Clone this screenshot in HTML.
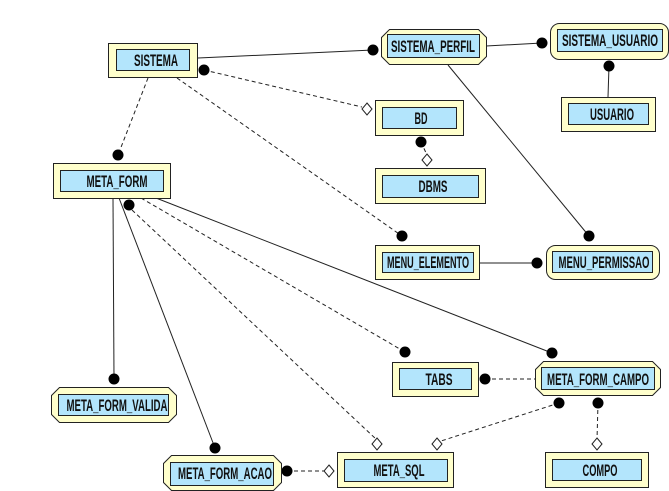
<!DOCTYPE html>
<html><head><meta charset="utf-8"><style>
html,body{margin:0;padding:0;background:#fff;width:669px;height:491px;overflow:hidden}
svg text{font-family:"Liberation Sans Narrow","Liberation Sans",sans-serif;font-weight:bold;fill:#111}
</style></head><body>
<svg width="669" height="491" viewBox="0 0 669 491" xmlns="http://www.w3.org/2000/svg">
<g stroke="#222" stroke-width="1" fill="none">
<line x1="198" y1="58" x2="373" y2="50"/>
<line x1="486" y1="46" x2="542" y2="43"/>
<line x1="609" y1="66" x2="608" y2="97"/>
<line x1="448" y1="65" x2="589" y2="236"/>
<line x1="479" y1="263" x2="537" y2="263"/>
<line x1="113" y1="198" x2="114" y2="379"/>
<line x1="119" y1="198" x2="215" y2="448"/>
<line x1="156" y1="198" x2="552" y2="353"/>
</g>
<g stroke="#222" stroke-width="1" fill="none" stroke-dasharray="4,3">
<line x1="204" y1="70" x2="362" y2="107"/>
<line x1="421" y1="142" x2="427" y2="155"/>
<line x1="148" y1="78" x2="118" y2="155"/>
<line x1="177" y1="78" x2="402" y2="236"/>
<line x1="132" y1="210" x2="377" y2="440"/>
<line x1="141" y1="198" x2="405" y2="352"/>
<line x1="485" y1="379" x2="535" y2="379"/>
<line x1="559" y1="403" x2="441" y2="441"/>
<line x1="598" y1="403" x2="597" y2="440"/>
<line x1="287" y1="471" x2="324" y2="471"/>
</g>
<g fill="#000">
<circle cx="373" cy="50" r="5.5"/><circle cx="542" cy="43" r="5.5"/><circle cx="609" cy="66" r="5.5"/>
<circle cx="204" cy="70" r="5.5"/><circle cx="421" cy="142" r="5.5"/><circle cx="118" cy="155" r="5.5"/>
<circle cx="402" cy="236" r="5.5"/><circle cx="589" cy="236" r="5.5"/><circle cx="537" cy="263" r="5.5"/>
<circle cx="129" cy="205" r="5.5"/><circle cx="405" cy="352" r="5.5"/><circle cx="552" cy="353" r="5.5"/>
<circle cx="485" cy="379" r="5.5"/><circle cx="559" cy="403" r="5.5"/><circle cx="598" cy="403" r="5.5"/>
<circle cx="114" cy="379" r="5.5"/><circle cx="215" cy="448" r="5.5"/><circle cx="287" cy="471" r="5.5"/>
</g>
<g fill="#fff" stroke="#222">
<path d="M367 103 L372 109 L367 115 L362 109Z"/>
<path d="M427 154 L432 160 L427 166 L422 160Z"/>
<path d="M377 438 L382 444 L377 450 L372 444Z"/>
<path d="M437 438 L442 444 L437 450 L432 444Z"/>
<path d="M597 438 L602 444 L597 450 L592 444Z"/>
<path d="M329 465 L334 471 L329 477 L324 471Z"/>
</g>
<g stroke="#222" stroke-width="1">
<rect x="108.5" y="43.5" width="89" height="34" fill="#ffffcc"/><rect x="116.5" y="49.5" width="73" height="21" fill="#b3e5fc"/>
<path d="M389.5 29.5 H478.5 L486.5 37.5 V56.5 L478.5 64.5 H389.5 L381.5 56.5 V37.5Z" fill="#ffffcc"/><rect x="387.5" y="34.5" width="92" height="23" fill="#b3e5fc"/>
<rect x="550.5" y="23.5" width="118" height="36" rx="9" fill="#ffffcc"/><rect x="557.5" y="29.5" width="105" height="22" fill="#b3e5fc"/>
<rect x="561.5" y="97.5" width="94" height="34" fill="#ffffcc"/><rect x="568.5" y="103.5" width="80" height="21" fill="#b3e5fc"/>
<rect x="375.5" y="100.5" width="88" height="35" fill="#ffffcc"/><rect x="382.5" y="107.5" width="74" height="21" fill="#b3e5fc"/>
<rect x="375.5" y="168.5" width="110" height="35" fill="#ffffcc"/><rect x="382.5" y="175.5" width="96" height="22" fill="#b3e5fc"/>
<rect x="53.5" y="163.5" width="117" height="35" fill="#ffffcc"/><rect x="60.5" y="170.5" width="103" height="21" fill="#b3e5fc"/>
<rect x="375.5" y="245.5" width="104" height="34" fill="#ffffcc"/><rect x="382.5" y="252.5" width="91" height="20" fill="#b3e5fc"/>
<rect x="546.5" y="245.5" width="113" height="34" rx="9" fill="#ffffcc"/><rect x="552.5" y="251.5" width="100" height="21" fill="#b3e5fc"/>
<rect x="392.5" y="362.5" width="86" height="34" fill="#ffffcc"/><rect x="399.5" y="368.5" width="72" height="21" fill="#b3e5fc"/>
<path d="M543.5 361.5 H652.5 L660.5 369.5 V387.5 L652.5 395.5 H543.5 L535.5 387.5 V369.5Z" fill="#ffffcc"/><rect x="541.5" y="367.5" width="113" height="22" fill="#b3e5fc"/>
<path d="M59.5 387.5 H168.5 L176.5 395.5 V414.5 L168.5 422.5 H59.5 L51.5 414.5 V395.5Z" fill="#ffffcc"/><rect x="58.5" y="394.5" width="110" height="21" fill="#b3e5fc"/>
<path d="M171.5 455.5 H273.5 L281.5 463.5 V482.5 L273.5 490.5 H171.5 L163.5 482.5 V463.5Z" fill="#ffffcc"/><rect x="170.5" y="462.5" width="103" height="23" fill="#b3e5fc"/>
<rect x="337.5" y="452.5" width="116" height="35" fill="#ffffcc"/><rect x="344.5" y="459.5" width="103" height="22" fill="#b3e5fc"/>
<rect x="545.5" y="452.5" width="103" height="35" fill="#ffffcc"/><rect x="552.5" y="459.5" width="89" height="21" fill="#b3e5fc"/>
</g>
<g text-anchor="middle" font-size="17">
<text x="156" y="66" font-size="17" textLength="44" lengthAdjust="spacingAndGlyphs">SISTEMA</text>
<text x="433" y="52" font-size="17" textLength="84" lengthAdjust="spacingAndGlyphs">SISTEMA_PERFIL</text>
<text x="610" y="46" font-size="17" textLength="96" lengthAdjust="spacingAndGlyphs">SISTEMA_USUARIO</text>
<text x="612" y="120" font-size="17" textLength="44" lengthAdjust="spacingAndGlyphs">USUARIO</text>
<text x="421" y="124" font-size="17" textLength="13" lengthAdjust="spacingAndGlyphs">BD</text>
<text x="433" y="192" font-size="17" textLength="29" lengthAdjust="spacingAndGlyphs">DBMS</text>
<text x="117" y="187" font-size="17" textLength="61" lengthAdjust="spacingAndGlyphs">META_FORM</text>
<text x="428" y="268" font-size="17" textLength="82" lengthAdjust="spacingAndGlyphs">MENU_ELEMENTO</text>
<text x="604" y="268" font-size="17" textLength="91" lengthAdjust="spacingAndGlyphs">MENU_PERMISSAO</text>
<text x="439" y="385" font-size="17" textLength="27" lengthAdjust="spacingAndGlyphs">TABS</text>
<text x="598" y="385" font-size="17" textLength="102" lengthAdjust="spacingAndGlyphs">META_FORM_CAMPO</text>
<text x="117" y="411" font-size="17" textLength="101" lengthAdjust="spacingAndGlyphs">META_FORM_VALIDA</text>
<text x="225" y="479" font-size="17" textLength="94" lengthAdjust="spacingAndGlyphs">META_FORM_ACAO</text>
<text x="399" y="476" font-size="17" textLength="51" lengthAdjust="spacingAndGlyphs">META_SQL</text>
<text x="600" y="476" font-size="17" textLength="35" lengthAdjust="spacingAndGlyphs">COMPO</text>
</g>
</svg>
</body></html>
